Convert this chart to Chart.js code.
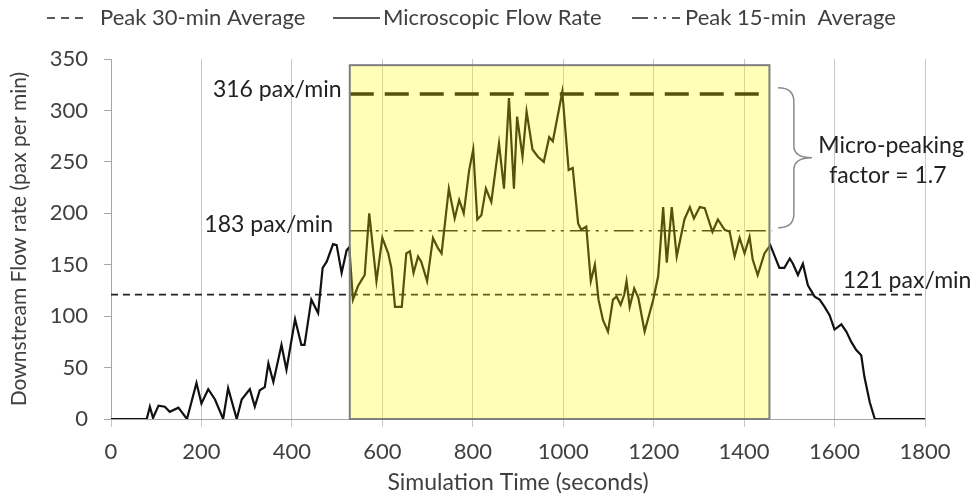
<!DOCTYPE html>
<html>
<head>
<meta charset="utf-8">
<script src="https://cdn.jsdelivr.net/npm/chart.js@4.4.1/dist/chart.umd.min.js"></script>
<style>
  html, body { margin: 0; padding: 0; background: #fff; }
  #wrap { width: 970px; height: 497px; }
</style>
</head>
<body>
<div id="wrap"><canvas id="flowChart" width="970" height="497"></canvas></div>
<script>
// simulation time (s) and microscopic flow rate (pax/min)
const times = [0, 79, 86, 93, 105, 119, 130, 149, 168, 189, 200, 215, 230, 248, 259, 278, 289, 307, 318, 329,
  340, 348, 359, 377, 388, 407, 421, 428, 443, 458, 468, 477, 491, 499, 510, 521, 527, 535, 546, 554,
  561, 571, 587, 600, 613, 620, 628, 643, 653, 661, 669, 679, 686, 699, 712, 723, 731, 747, 760, 770,
  780, 792, 801, 810, 819, 829, 841, 858, 869, 880, 891, 898, 910, 919, 932, 944, 957, 969, 977, 998,
  1012, 1021, 1033, 1040, 1051, 1061, 1070, 1078, 1088, 1099, 1110, 1118, 1127, 1135, 1140, 1147, 1157, 1166, 1180, 1199,
  1210, 1221, 1229, 1240, 1251, 1268, 1280, 1289, 1302, 1313, 1330, 1342, 1357, 1368, 1379, 1390, 1401, 1412, 1419, 1430,
  1445, 1458, 1478, 1489, 1501, 1508, 1519, 1530, 1541, 1556, 1567, 1578, 1589, 1600, 1615, 1626, 1637, 1648, 1659, 1666,
  1678, 1689, 1800];
const flowRate = [0, 0, 12, 1, 13, 12, 7, 11, 0, 35, 15, 29, 19, 0, 30, 0, 19, 29, 12, 28,
  31, 54, 36, 72, 48, 97, 72, 72, 116, 103, 147, 153, 170, 169, 142, 164, 167, 116, 129, 135,
  140, 200, 134, 176, 161, 147, 109, 109, 161, 163, 142, 158, 153, 134, 176, 166, 161, 224, 195, 213,
  200, 242, 262, 194, 198, 224, 211, 268, 224, 312, 224, 294, 255, 299, 262, 255, 250, 274, 270, 318,
  242, 244, 190, 184, 187, 134, 150, 116, 96, 85, 116, 119, 111, 121, 134, 109, 127, 118, 85, 116,
  139, 206, 152, 206, 158, 194, 206, 195, 206, 205, 182, 194, 184, 182, 158, 176, 161, 177, 155, 140,
  161, 169, 147, 147, 156, 151, 140, 151, 130, 119, 116, 109, 101, 87, 92, 85, 75, 67, 62, 41,
  16, 0, 0];

const peak30 = 121;          // pax/min
const peak15 = 183;          // pax/min
const microPeak = 316;       // pax/min
const peakWindow = [528, 1456];   // seconds, highlighted period
const xTicks = [0, 200, 400, 600, 800, 1000, 1200, 1400, 1600, 1800];

const FONT = 'Lato, "Open Sans", sans-serif';
const TEXT = '#404040';

// yellow highlight box drawn over the datasets (tints the line like the figure)
const peakBox = {
  id: 'peakBox',
  afterDatasetsDraw(chart) {
    const { ctx, scales: { x, y } } = chart;
    const x0 = x.getPixelForValue(peakWindow[0]);
    const x1 = x.getPixelForValue(peakWindow[1]);
    const y0 = y.getPixelForValue(344);
    const y1 = y.getPixelForValue(0);
    ctx.save();
    ctx.fillStyle = 'rgba(255,255,0,0.28)';
    ctx.fillRect(x0, y0, x1 - x0, y1 - y0);
    ctx.strokeStyle = '#7f7f7f';
    ctx.lineWidth = 2;
    ctx.strokeRect(x0, y0, x1 - x0, y1 - y0);
    ctx.restore();
  }
};

// labels, brace and legend
const notes = {
  id: 'notes',
  afterDraw(chart) {
    const { ctx, scales: { x, y } } = chart;
    ctx.save();
    ctx.font = '23px ' + FONT;
    ctx.fillStyle = '#222';
    ctx.textBaseline = 'middle';

    ctx.textAlign = 'right';
    ctx.fillText(microPeak + ' pax/min', x.getPixelForValue(510), y.getPixelForValue(microPeak + 4));
    ctx.fillText(peak15 + ' pax/min', x.getPixelForValue(491), y.getPixelForValue(peak15 + 6));
    ctx.textAlign = 'left';
    ctx.fillText(peak30 + ' pax/min', x.getPixelForValue(1618), y.getPixelForValue(peak30 + 14));
    ctx.textAlign = 'center';
    ctx.fillText('Micro-peaking', x.getPixelForValue(1725), y.getPixelForValue(266));
    ctx.fillText('factor = 1.7', x.getPixelForValue(1718), y.getPixelForValue(237));

    // curly brace between the two peaks
    const bx = x.getPixelForValue(1510);
    const bl = x.getPixelForValue(1475);
    const tip = x.getPixelForValue(1550);
    const top = y.getPixelForValue(322);
    const bot = y.getPixelForValue(186);
    const mid = (top + bot) / 2;
    ctx.strokeStyle = '#8a8a8a';
    ctx.lineWidth = 1.5;
    ctx.beginPath();
    ctx.moveTo(bl, top);
    ctx.quadraticCurveTo(bx, top, bx, top + 14);
    ctx.lineTo(bx, mid - 12);
    ctx.quadraticCurveTo(bx, mid, tip, mid);
    ctx.quadraticCurveTo(bx, mid, bx, mid + 12);
    ctx.lineTo(bx, bot - 14);
    ctx.quadraticCurveTo(bx, bot, bl, bot);
    ctx.stroke();

    // legend
    const ly = 18;
    ctx.font = '22px ' + FONT;
    ctx.fillStyle = TEXT;
    ctx.textAlign = 'left';
    ctx.strokeStyle = '#5a5a5a';
    ctx.lineWidth = 2;
    const items = [
      { x0: 47, x1: 85, dash: [8, 6], label: 'Peak 30-min Average', tx: 100 },
      { x0: 333, x1: 380, dash: [], label: 'Microscopic Flow Rate', tx: 383 },
      { x0: 632, x1: 680, dash: [16, 6, 3, 6, 3, 6], label: 'Peak 15-min  Average', tx: 685 }
    ];
    items.forEach(it => {
      ctx.setLineDash(it.dash);
      ctx.beginPath();
      ctx.moveTo(it.x0, ly);
      ctx.lineTo(it.x1, ly);
      ctx.stroke();
      ctx.fillText(it.label, it.tx, ly);
    });
    ctx.restore();
  }
};

const flowPoints = times.map((t, i) => ({ x: t, y: flowRate[i] }));

new Chart(document.getElementById('flowChart'), {
  type: 'line',
  data: {
    datasets: [
      {
        label: 'Microscopic Flow Rate',
        data: flowPoints,
        borderColor: '#111',
        borderWidth: 2.2,
        pointRadius: 0,
        tension: 0
      },
      {
        label: 'Peak 30-min Average',
        data: [{ x: 0, y: peak30 }, { x: 1800, y: peak30 }],
        borderColor: '#222',
        borderWidth: 1.8,
        borderDash: [7, 5],
        pointRadius: 0
      },
      {
        label: 'Peak 15-min Average',
        data: [{ x: peakWindow[0], y: peak15 }, { x: peakWindow[1] + 6, y: peak15 }],
        borderColor: '#222',
        borderWidth: 1.6,
        borderDash: [20, 6, 3, 6, 3, 6],
        pointRadius: 0
      },
      {
        label: 'Micro peak',
        data: [{ x: peakWindow[0], y: microPeak }, { x: peakWindow[1] - 10, y: microPeak }],
        borderColor: '#111',
        borderWidth: 3.5,
        borderDash: [24, 11],
        pointRadius: 0
      }
    ]
  },
  options: {
    responsive: false,
    animation: false,
    layout: { padding: { left: 0, right: 45, top: 59, bottom: 0 } },
    plugins: {
      legend: { display: false },
      tooltip: { enabled: false }
    },
    scales: {
      x: {
        type: 'linear',
        min: 0,
        max: 1800,
        afterBuildTicks: s => { s.ticks = xTicks.map(v => ({ value: v })); },
        afterFit: s => { s.height = 78; },
        border: { color: '#a6a6a6', width: 1 },
        grid: { color: '#c8c8c8', lineWidth: 1, tickLength: 8, drawTicks: true },
        ticks: {
          color: TEXT,
          font: { family: FONT, size: 22 },
          padding: 12,
          maxRotation: 0,
          callback: v => String(v)
        },
        title: {
          display: true,
          text: 'Simulation Time (seconds)',
          color: TEXT,
          font: { family: FONT, size: 23 },
          padding: { top: 0, bottom: 1 }
        }
      },
      y: {
        min: 0,
        max: 350,
        afterFit: s => { s.width = 111; },
        border: { color: '#a6a6a6', width: 1 },
        grid: { drawOnChartArea: false, color: '#a6a6a6', tickLength: 7 },
        ticks: { stepSize: 50, color: TEXT, font: { family: FONT, size: 22 }, padding: 16 },
        title: {
          display: true,
          text: 'Downstream Flow rate (pax per min)',
          color: TEXT,
          font: { family: FONT, size: 21 },
          padding: { top: 7, bottom: 0 }
        }
      }
    }
  },
  plugins: [peakBox, notes]
});
</script>
</body>
</html>
